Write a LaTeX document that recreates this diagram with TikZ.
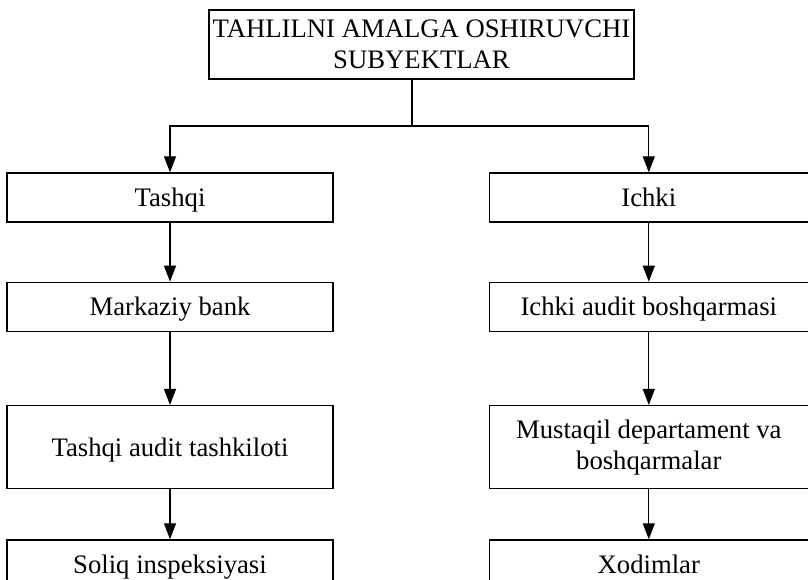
\documentclass[tikz,border=0pt]{standalone}
\usepackage{fontspec}
\setmainfont{Liberation Serif}
\usetikzlibrary{arrows.meta,positioning}

\begin{document}
\begin{tikzpicture}[x=1pt, y=1pt, every node/.style={font=\fontsize{26.7}{31}\selectfont}, box/.style={draw, line width=1.3pt, align=center, inner sep=0pt, minimum height=49pt}, onebox/.style={box, text height=20pt, text depth=2pt}, arr/.style={-{Triangle[length=16pt,width=12pt]}, line width=1.3pt}]
\useasboundingbox (0,0) rectangle (808,-580);
\clip (0,0) rectangle (808,-580);
\node[box, minimum width=425pt, minimum height=69pt] (subyekt) at (421.5,-44.5) {TAHLILNI AMALGA OSHIRUVCHI\\SUBYEKTLAR};
\node[onebox, minimum width=326pt] (tashqi) at (170,-197.5) {Tashqi};
\node[onebox, minimum width=319pt, right=155pt of tashqi] (ichki) {Ichki};
\node[onebox, minimum width=326pt, below=59pt of tashqi] (bank) {Markaziy bank};
\node[onebox, minimum width=319pt, below=59pt of ichki] (ichaudit) {Ichki audit boshqarmasi};
\node[onebox, minimum width=326pt, minimum height=83pt, below=73pt of bank] (tashaudit) {Tashqi audit tashkiloti};
\node[box, minimum width=319pt, minimum height=83pt, below=73pt of ichaudit] (mustaqil) {Mustaqil departament va\\boshqarmalar};
\node[onebox, minimum width=326pt, below=50pt of tashaudit] (soliq) {Soliq inspeksiyasi};
\node[onebox, minimum width=319pt, below=50pt of mustaqil] (xodim) {Xodimlar};
\coordinate (split) at (412,-126);
\draw[line width=1.3pt] (subyekt.south -| split) -- (split);
\draw[arr] (split) -| (tashqi);
\draw[arr] (split) -| (ichki);
\draw[arr] (tashqi) -- (bank);
\draw[arr] (bank) -- (tashaudit);
\draw[arr] (tashaudit) -- (soliq);
\draw[arr] (ichki) -- (ichaudit);
\draw[arr] (ichaudit) -- (mustaqil);
\draw[arr] (mustaqil) -- (xodim);
\end{tikzpicture}
\end{document}
